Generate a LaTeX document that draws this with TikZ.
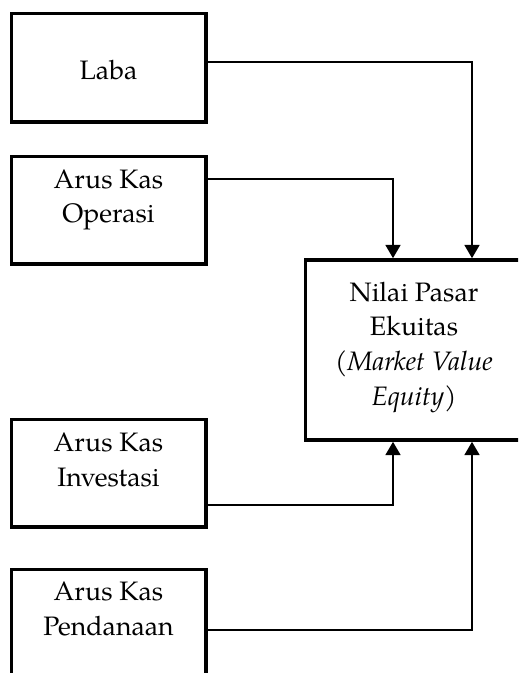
\documentclass[tikz,border=0pt]{standalone}
\usepackage{fontspec}
\setmainfont{TeX Gyre Pagella}
\usetikzlibrary{arrows.meta,fit}

\begin{document}
\begin{tikzpicture}[x=0.75pt,y=-0.75pt,
    box/.style={draw,line width=2.6pt,inner sep=0pt},
    lbl/.style={font=\fontsize{20}{26}\selectfont,align=center,inner sep=0pt,anchor=base},
    conn/.style={line width=2pt,-{Triangle[width=11pt,length=10pt]}}]
  \clip (0,0) rectangle (518,673);
  % boxes
  \node[box,fit={(11.5,13.5) (206,122)}] (laba) {};
  \node[box,fit={(11.5,156.5) (206,264)}] (ops) {};
  \node[box,fit={(11.5,419.5) (206,527)}] (inv) {};
  \node[box,fit={(11.5,569.5) (206,700)}] (fin) {};
  \node[box,fit={(305.5,260) (560,440)}] (nilai) {};
  % texts (base = last line)
  \node[lbl] (laba-t) at (108.5,80) {Laba};
  \node[lbl] (ops-t) at (108.5,223) {Arus Kas\\Operasi};
  \node[lbl] (inv-t) at (108.5,486) {Arus Kas\\Investasi};
  \node[lbl] (fin-t) at (108.5,635) {Arus Kas\\Pendanaan};
  \node[lbl] (nilai-t) at (414,405) {Nilai Pasar\\Ekuitas\\(\textit{Market Value}\\\textit{Equity})};
  % connector columns and rows
  \coordinate (colA) at (393,0);
  \coordinate (colB) at (472,0);
  \coordinate (rowL) at (0,62);
  \coordinate (rowO) at (0,179);
  \coordinate (rowI) at (0,505);
  \coordinate (rowP) at (0,630);
  % connectors
  \draw[conn] (laba.east |- rowL) -| (colB |- nilai.north);
  \draw[conn] (ops.east |- rowO) -| (colA |- nilai.north);
  \draw[conn] (inv.east |- rowI) -| (colA |- nilai.south);
  \draw[conn] (fin.east |- rowP) -| (colB |- nilai.south);
\end{tikzpicture}
\end{document}
